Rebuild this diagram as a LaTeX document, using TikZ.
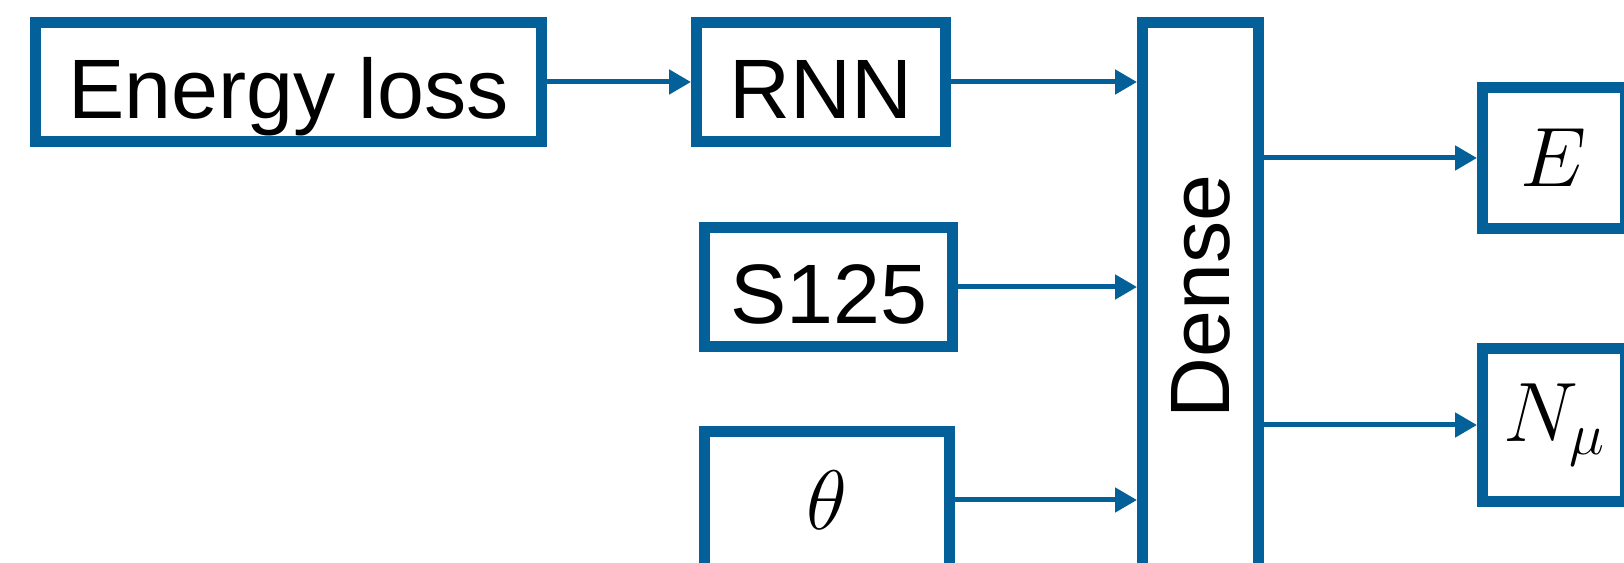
\RequirePackage{fix-cm}
\documentclass[tikz,border=0pt]{standalone}
\usepackage{fontspec}
\usepackage{graphicx}
\setmainfont{Liberation Sans}
\usetikzlibrary{arrows.meta}
\definecolor{boxblue}{RGB}{3,96,152}
\tikzset{
  blk/.style={draw=boxblue, line width=0.22cm, fill=white, inner sep=0pt,
    font=\fontsize{48}{58}\selectfont},
  txt/.style={text height=1.48cm, text depth=0pt},
  conn/.style={draw=boxblue, line width=0.1cm,
    -{Triangle[length=0.44cm,width=0.48cm]}}
}
\begin{document}
\begin{tikzpicture}
  \useasboundingbox (0,0) rectangle (32.48,11.26);%

  % Drawing input boxes
  \node [blk, txt, minimum width=10.12cm, minimum height=2.38cm] (eloss) at (5.77,9.62) {Energy loss};%
  \node [blk, txt, minimum width=4.98cm, minimum height=2.38cm] (rnn) at (16.42,9.62) {RNN};%
  \node [blk, txt, minimum width=4.96cm, minimum height=2.38cm] (sig) at (16.57,5.52) {S125};%
  \node [blk, minimum width=4.90cm, minimum height=2.74cm] (theta) at (16.54,1.26) {$\theta$};%

  % Drawing dense layer
  \node [blk, minimum width=2.32cm, minimum height=10.95cm] (dense) at (24.01,5.335) {\rotatebox{90}{Dense}};%

  % Drawing outputs
  \node [blk, minimum width=2.86cm, minimum height=2.82cm] (energy) at (31.08,8.10) {$E$};%
  \node [blk, minimum width=2.86cm, minimum height=3.06cm] (nmu) at (31.08,2.76) {$N_\mu$};%

  % Drawing connections
  \draw [conn] (eloss.east) -- (rnn.west);%
  \draw [conn] (rnn.east) -- (rnn.east -| dense.west);%
  \draw [conn] (sig.east) -- (sig.east -| dense.west);%
  \draw [conn] (theta.east) -- (theta.east -| dense.west);%
  \draw [conn] (dense.east |- energy.west) -- (energy.west);%
  \draw [conn] (dense.east |- nmu.west) -- (nmu.west);%
\end{tikzpicture}
\end{document}
